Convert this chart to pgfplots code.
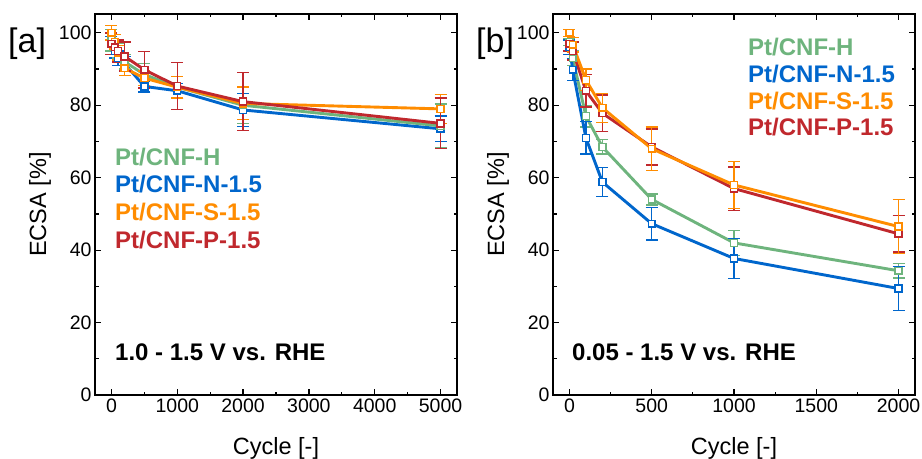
\documentclass[border=0pt]{standalone}
\usepackage{pgfplots}
\pgfplotsset{compat=1.18}
\usepackage{fontspec}
\setmainfont{Liberation Sans}
\definecolor{cH}{RGB}{110,180,125}
\definecolor{cN}{RGB}{0,102,204}
\definecolor{cS}{RGB}{255,140,0}
\definecolor{cP}{RGB}{192,40,45}
\pgfplotsset{
 myaxis/.style={
  scale only axis, width=362bp, height=381bp,
  ymin=0, ymax=105.2, ytick={0,20,...,100}, minor y tick num=1,
  tick align=inside, major tick length=6bp, minor tick length=3.5bp,
  tick style={line width=1.2bp, black},
  ticklabel style={font=\fontsize{19.5bp}{22bp}\selectfont},
  /pgf/number format/assume math mode=true,
  /pgf/number format/set thousands separator={},
  axis line style={line width=1.6bp},
  xlabel={Cycle [-]}, ylabel={ECSA [\%]},
  label style={font=\fontsize{23.5bp}{26bp}\selectfont},
  xlabel style={at={(axis description cs:0.5,-0.140)}, anchor=center},
  ylabel style={at={(axis description cs:-0.152,0.5)}, anchor=center},
  clip=false,
 },
 ser/.style={color=#1, line width=2.9bp, mark=square*, mark size=3.4bp,
   mark options={fill=white, draw=#1, solid, line width=1.5bp},
   error bars/.cd, y dir=both, y explicit,
   error bar style={line width=1.4bp, #1},
   error mark options={rotate=90, mark size=6bp, line width=1.4bp, #1}},
}
\begin{document}
\begin{tikzpicture}
\path[use as bounding box] (0,0) rectangle (922bp,459bp);
\begin{axis}[myaxis, at={(95bp,64bp)}, anchor=south west,
  xmin=-250, xmax=5250, xtick={0,1000,...,5000}, minor x tick num=1]
\addplot[ser=cN] coordinates {(0,97) +- (0,2) (50,95) +- (0,2) (100,93) +- (0,2) (200,91.5) +- (0,2) (500,85.2) +- (0,1.5) (1000,84) +- (0,2) (2000,78.7) +- (0,4.5) (5000,73.5) +- (0,3.5)};
\addplot[ser=cH] coordinates {(0,98) +- (0,3) (50,96) +- (0,2) (100,95) +- (0,2) (200,92) +- (0,2) (500,88.5) +- (0,3) (1000,85) +- (0,3) (2000,80) +- (0,5) (5000,74.3) +- (0,6)};
\addplot[ser=cS] coordinates {(0,100) +- (0,2) (50,97.5) +- (0,2) (100,94.5) +- (0,2) (200,90.2) +- (0,2) (500,87.5) +- (0,2) (1000,85) +- (0,3) (2000,80.5) +- (0,4.5) (5000,79) +- (0,4)};
\addplot[ser=cP] coordinates {(0,97) +- (0,3) (50,96) +- (0,2) (100,95) +- (0,3) (200,93.5) +- (0,4) (500,89.8) +- (0,5) (1000,85.3) +- (0,6.5) (2000,81) +- (0,8) (5000,75) +- (0,7)};
\end{axis}
\begin{axis}[myaxis, at={(553bp,64bp)}, anchor=south west,
  xmin=-100, xmax=2100, xtick={0,500,...,2000}, minor x tick num=1]
\addplot[ser=cH] coordinates {(0,97.5) +- (0,1) (20,93) +- (0,2) (100,77) +- (0,3) (200,68.5) +- (0,2) (500,54) +- (0,1.5) (1000,42) +- (0,3.5) (2000,34.3) +- (0,2)};
\addplot[ser=cN] coordinates {(0,96) +- (0,2) (20,89.8) +- (0,3) (100,71) +- (0,4.5) (200,58.8) +- (0,4) (500,47.3) +- (0,4.5) (1000,37.7) +- (0,5.5) (2000,29.4) +- (0,6)};
\addplot[ser=cP] coordinates {(0,97) +- (0,2) (20,95) +- (0,2.5) (100,84) +- (0,4.5) (200,77.8) +- (0,5) (500,68.5) +- (0,5) (1000,57) +- (0,6) (2000,44.5) +- (0,5)};
\addplot[ser=cS] coordinates {(0,100) +- (0,1) (20,96.7) +- (0,2) (100,87) +- (0,3) (200,79.3) +- (0,4) (500,68) +- (0,6) (1000,58) +- (0,6.5) (2000,46.5) +- (0,7.5)};
\end{axis}
\begin{scope}[every node/.style={anchor=west, inner sep=0pt, font=\fontsize{24bp}{28bp}\selectfont\bfseries}]
\node[text=cH] at (115bp,{(459-157)*1bp}) {Pt/CNF-H};
\node[text=cN] at (115bp,{(459-184)*1bp}) {Pt/CNF-N-1.5};
\node[text=cS] at (115bp,{(459-212)*1bp}) {Pt/CNF-S-1.5};
\node[text=cP] at (115bp,{(459-240)*1bp}) {Pt/CNF-P-1.5};
\node[text=cH] at (748bp,{(459-47)*1bp}) {Pt/CNF-H};
\node[text=cN] at (748bp,{(459-74)*1bp}) {Pt/CNF-N-1.5};
\node[text=cS] at (748bp,{(459-101)*1bp}) {Pt/CNF-S-1.5};
\node[text=cP] at (748bp,{(459-127)*1bp}) {Pt/CNF-P-1.5};
\node at (115bp,{(459-352)*1bp}) {1.0 - 1.5 V vs. RHE};
\node at (572bp,{(459-352)*1bp}) {0.05 - 1.5 V vs. RHE};
\end{scope}
\node[anchor=west, inner sep=0pt, font=\fontsize{34bp}{38bp}\selectfont] at (8bp,{(459-44)*1bp}) {[a]};
\node[anchor=west, inner sep=0pt, font=\fontsize{34bp}{38bp}\selectfont] at (476bp,{(459-44)*1bp}) {[b]};
\end{tikzpicture}
\end{document}
